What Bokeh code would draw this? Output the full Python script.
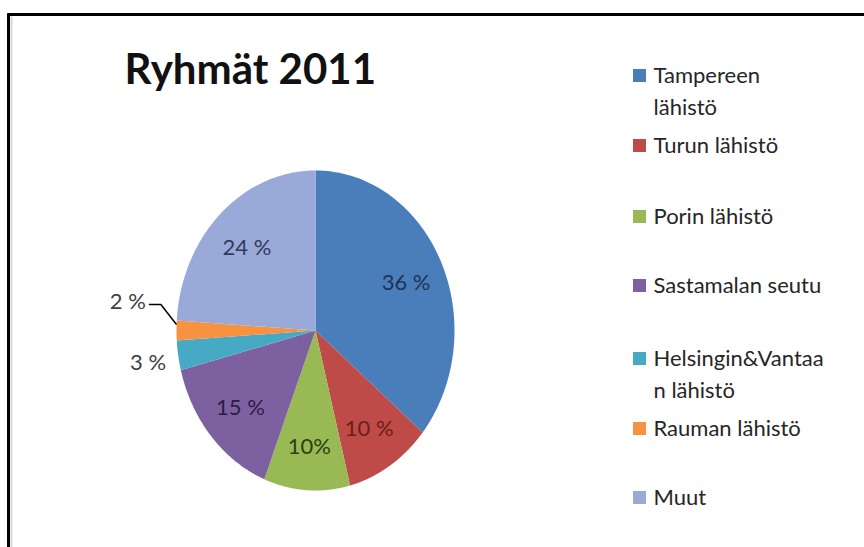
import numpy as np
from bokeh.plotting import figure
from bokeh.models import Range1d
from bokeh.core.properties import value
from bokeh.embed import file_html
from bokeh.resources import INLINE

# ---- data ----
title = "Ryhmät 2011"
categories = ["Tampereen lähistö", "Turun lähistö", "Porin lähistö", "Sastamalan seutu",
              "Helsingin&Vantaan lähistö", "Rauman lähistö", "Muut"]
legend_lines = [["Tampereen", "lähistö"], ["Turun lähistö"], ["Porin lähistö"],
                ["Sastamalan seutu"], ["Helsingin&Vantaa", "n lähistö"],
                ["Rauman lähistö"], ["Muut"]]
percent = [36, 10, 10, 15, 3, 2, 24]
percent_labels = ["36 %", "10 %", "10%", "15 %", "3 %", "2 %", "24 %"]

# ---- style ----
colors = ["#4A7EBB", "#BE4B48", "#98B954", "#7D60A0", "#46AAC5", "#F69240", "#9AAAD8"]
label_colors = ["#1E3354", "#6E1C1B", "#2E3D14", "#2B1D47", "#404040", "#404040", "#2E3B5E"]
FONT = "Lato"

W, H = 864, 547
CX, CY, RX, RY = 315, 330, 139, 160

p = figure(width=W, height=H, output_backend="svg", toolbar_location=None,
           x_range=Range1d(0, W), y_range=Range1d(H, 0), min_border=0)
p.axis.visible = False
p.grid.visible = False
p.outline_line_color = None
p.background_fill_color = "white"
p.border_fill_color = "white"

# frame lines (top and left)
p.segment(x0=[7, 8], y0=[14, 13], x1=[W, 8], y1=[14, H], line_color="black", line_width=3)
p.segment(x0=[11], y0=[16], x1=[11], y1=[H], line_color="#d8d8d8", line_width=2)

# ---- pie (slightly elliptical) ----
vals = np.array(percent, dtype=float)
cum = np.concatenate([[0], np.cumsum(vals)]) / vals.sum()
xs, ys = [], []
for i in range(len(vals)):
    t = np.linspace(cum[i], cum[i + 1], 80) * 2 * np.pi
    xs.append(list(np.concatenate([[CX], CX + RX * np.sin(t)])))
    ys.append(list(np.concatenate([[CY], CY - RY * np.cos(t)])))
p.patches(xs, ys, fill_color=colors, line_color=None)

# ---- percentage labels ----
lx, ly = [], []
mid = (cum[:-1] + cum[1:]) / 2 * 2 * np.pi
for i, m in enumerate(mid):
    f = 0.72 if vals[i] >= 5 else 1.22
    x = CX + f * RX * np.sin(m)
    y = CY - f * RY * np.cos(m)
    if vals[i] <= 2:
        x = CX + 1.35 * RX * np.sin(m)
        y = CY - 1.35 * RY * np.cos(m) - 30
        ex, ey = CX + RX * np.sin(m), CY - RY * np.cos(m) - 6
        p.line([x + 21, x + 33, ex], [y + 4, y + 4, ey], line_color="black", line_width=1.5)
    lx.append(x)
    ly.append(y)
p.text(x=lx, y=ly, text=percent_labels, text_color=label_colors, text_align="center",
       text_baseline="middle", text_font=value(FONT), text_font_size="22px")

# ---- title ----
p.text(x=[124], y=[67], text=[title], text_font=value(FONT), text_font_style="bold",
       text_font_size="42px", text_color="#111111", text_baseline="middle")

# ---- legend ----
baselines = [82, 152, 223, 292, 365, 435, 504]
line_gap = 32
p.rect(x=[639] * len(categories), y=[b - 7 for b in baselines], width=13, height=13,
       width_units="screen", height_units="screen", fill_color=colors, line_color=None)
tx, ty, tt = [], [], []
for b, lines in zip(baselines, legend_lines):
    for k, s in enumerate(lines):
        tx.append(653)
        ty.append(b - 8 + k * line_gap)
        tt.append(s)
p.text(x=tx, y=ty, text=tt, text_font=value(FONT), text_font_size="22px",
       text_color="#262626", text_baseline="middle")

open("out.html", "w").write(file_html(p, INLINE))
